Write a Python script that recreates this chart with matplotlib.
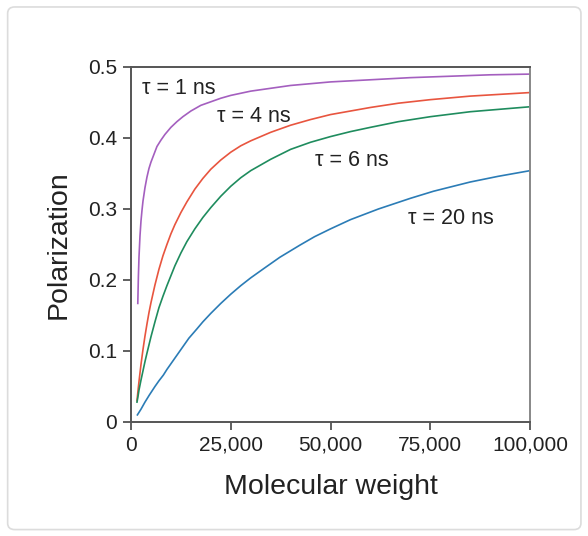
import matplotlib
matplotlib.use("Agg")
import matplotlib.pyplot as plt
from matplotlib.patches import FancyBboxPatch

plt.rcParams['font.family'] = ['Liberation Sans', 'DejaVu Sans']

# values
mw_1 = [1700, 1850, 2000, 2250, 2500, 2750, 3000, 3500, 4000, 4500, 5000, 5750,
        6500, 7500, 8500, 10000, 11500, 13000, 15000, 17500, 20000, 22500, 25000,
        30000, 35000, 40000, 50000, 60000, 70000, 80000, 90000, 100000]
pol_1 = [0.167, 0.205, 0.232, 0.262, 0.283, 0.298, 0.311, 0.330, 0.345, 0.357, 0.366, 0.377,
         0.388, 0.397, 0.405, 0.415, 0.423, 0.430, 0.438, 0.446, 0.451, 0.456, 0.460,
         0.466, 0.470, 0.474, 0.479, 0.482, 0.485, 0.487, 0.489, 0.490]

mw_4 = [1500, 1750, 2000, 2500, 3000, 3500, 4000, 4500, 5000, 6000, 7000, 8000,
        9000, 10000, 11000, 12500, 14000, 16000, 18000, 20000, 22500, 25000, 27500,
        30000, 35000, 40000, 45000, 50000, 55000, 60000, 67000, 75000, 85000, 100000]
pol_4 = [0.030, 0.044, 0.057, 0.081, 0.102, 0.121, 0.138, 0.154, 0.168, 0.193, 0.215, 0.234,
         0.250, 0.265, 0.278, 0.295, 0.310, 0.328, 0.343, 0.356, 0.369, 0.380, 0.389,
         0.396, 0.408, 0.418, 0.426, 0.433, 0.438, 0.443, 0.449, 0.454, 0.459, 0.464]

mw_6 = [1500, 1750, 2000, 2500, 3000, 3500, 4000, 5000, 6000, 7000, 8000, 9000,
        10000, 11000, 12500, 14000, 16000, 18000, 20000, 22500, 25000, 27500, 30000,
        35000, 40000, 45000, 50000, 55000, 60000, 67000, 75000, 85000, 100000]
pol_6 = [0.028, 0.036, 0.045, 0.059, 0.072, 0.085, 0.097, 0.120, 0.141, 0.161, 0.177, 0.192,
         0.206, 0.220, 0.238, 0.254, 0.272, 0.288, 0.302, 0.318, 0.332, 0.344, 0.354,
         0.370, 0.384, 0.394, 0.402, 0.409, 0.415, 0.423, 0.430, 0.437, 0.444]

mw_20 = [1600, 2500, 3500, 4600, 6000, 7000, 8100, 9000, 10000, 11500, 13000, 14500,
         16500, 18000, 20000, 22500, 25000, 27500, 30000, 33500, 37300, 42300, 46000,
         50000, 55000, 62000, 70000, 75800, 85000, 92000, 100000]
pol_20 = [0.010, 0.018, 0.028, 0.038, 0.050, 0.058, 0.066, 0.074, 0.082, 0.094, 0.106, 0.118,
          0.131, 0.141, 0.153, 0.167, 0.180, 0.192, 0.203, 0.217, 0.232, 0.249, 0.261,
          0.272, 0.285, 0.300, 0.315, 0.325, 0.338, 0.346, 0.354]

labels = ['τ = 1 ns', 'τ = 4 ns', 'τ = 6 ns', 'τ = 20 ns']
label_x = [2700, 21500, 46100, 69500]
label_y = [0.470, 0.430, 0.369, 0.287]
colors = ['#a45fbf', '#e8553f', '#1f8c5e', '#2b7cb6']

xticks = [0, 25000, 50000, 75000, 100000]
xticklabels = ['0', '25,000', '50,000', '75,000', '100,000']
yticks = [0, 0.1, 0.2, 0.3, 0.4, 0.5]
yticklabels = ['0', '0.1', '0.2', '0.3', '0.4', '0.5']

fig = plt.figure(figsize=(5.88, 5.36), dpi=100)
card = FancyBboxPatch((0.013, 0.012), 0.975, 0.975,
                      boxstyle="round,pad=0,rounding_size=0.012",
                      transform=fig.transFigure, facecolor='white',
                      edgecolor='#dcdcdc', linewidth=1.2, zorder=-5)
fig.add_artist(card)
ax = fig.add_axes([0.2228, 0.2127, 0.6786, 0.6623])
ax.patch.set_alpha(0)

series = [(mw_1, pol_1), (mw_4, pol_4), (mw_6, pol_6), (mw_20, pol_20)]
for (xs, ys), c in zip(series, colors):
    ax.plot(xs, ys, color=c, lw=1.2)

for t, x, y in zip(labels, label_x, label_y):
    ax.text(x, y, t, fontsize=15.5, color='#222222', va='center', ha='left')

ax.set_xlim(0, 100000)
ax.set_ylim(0, 0.5)
ax.set_xticks(xticks)
ax.set_xticklabels(xticklabels)
ax.set_yticks(yticks)
ax.set_yticklabels(yticklabels)
ax.tick_params(direction='out', length=6, width=1.2, colors='#444444',
               labelcolor='#222222', labelsize=15, pad=4)
for s in ax.spines.values():
    s.set_color('#555555')
    s.set_linewidth(1.4)
ax.spines['right'].set_color('#888888')

ax.set_xlabel('Molecular weight', fontsize=20.5, color='#222222', labelpad=14)
ax.set_ylabel('Polarization', fontsize=20.5, color='#222222', labelpad=12)

fig.savefig('out.png', dpi=100)
